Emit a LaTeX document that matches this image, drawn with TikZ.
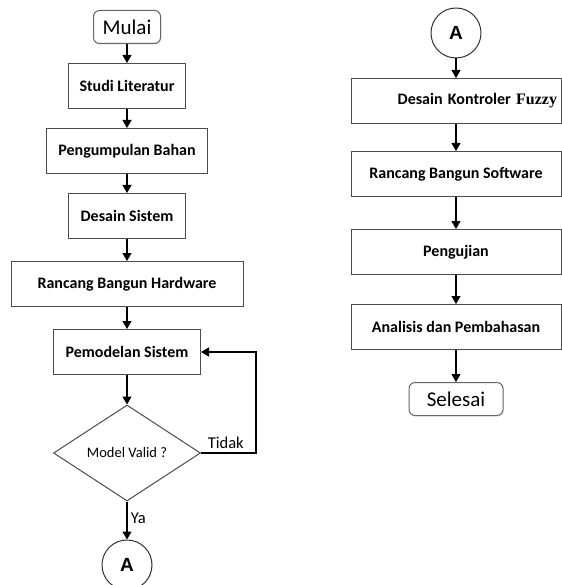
\documentclass[tikz,border=0pt]{standalone}
\usepackage{fontspec}
\setmainfont{Carlito}
\newfontfamily\fuzzyfont{Liberation Serif}
\newfontfamily\circfont{Liberation Sans}
\usetikzlibrary{positioning,shapes.geometric,arrows.meta,shadows}

\begin{document}
\begin{tikzpicture}[node distance=65pt, >={Triangle[length=8pt,width=9pt]}, line width=1.2pt]
    \tikzstyle{proses} = [draw=black!70, line width=1pt, rectangle, minimum height=45pt, inner sep=4pt, font=\fontsize{16}{18}\selectfont\bfseries]
    \tikzstyle{terminal} = [draw=black!60, fill=white, line width=1pt, rectangle, rounded corners=6pt, minimum height=33pt, font=\fontsize{21}{23}\selectfont, drop shadow={opacity=0.12, shadow xshift=1pt, shadow yshift=-1.5pt}]
    \tikzstyle{keputusan} = [draw=black!70, line width=1pt, diamond, minimum width=147pt, minimum height=96pt, inner sep=0pt, font=\fontsize{14.5}{16}\selectfont]
    \tikzstyle{konektor} = [draw=black!80, line width=1pt, circle, minimum size=50pt, fill=white, font=\circfont\bfseries\fontsize{19}{21}\selectfont]
    \tikzstyle{ket} = [font=\fontsize{16.5}{18}\selectfont]

    \useasboundingbox (0,0) rectangle (561pt,-585pt);

    % kolom kiri
    \node [terminal, minimum width=67pt] (mulai) at (127pt,-27pt) {Mulai};
    \node [proses, below of=mulai, node distance=59pt, minimum width=117pt] (studi) {Studi Literatur};
    \node [proses, below of=studi, minimum width=161pt] (bahan) {Pengumpulan Bahan};
    \node [proses, below of=bahan, minimum width=117pt] (desain) {Desain Sistem};
    \node [proses, below of=desain, node distance=68pt, minimum width=232pt] (hardware) {Rancang Bangun Hardware};
    \node [proses, below of=hardware, node distance=68pt, minimum width=147pt] (model) {Pemodelan Sistem};
    \node [keputusan, below of=model, node distance=101pt] (valid) {Model Valid ?};
    \node [konektor, below of=valid, node distance=112pt] (a1) {A};

    % kolom kanan
    \node [konektor] (a2) at (456pt,-33pt) {A};
    \node [proses, below of=a2, node distance=68pt, text width=202pt, align=right] (fuzzy) {Desain Kontroler {\fuzzyfont Fuzzy}};
    \node [proses, below of=fuzzy, node distance=73pt, minimum width=210pt] (software) {Rancang Bangun Software};
    \node [proses, below of=software, node distance=78pt, minimum width=210pt] (uji) {Pengujian};
    \node [proses, below of=uji, node distance=75pt, minimum width=210pt] (analisis) {Analisis dan Pembahasan};
    \node [terminal, below of=analisis, node distance=72pt, minimum width=94pt] (selesai) {Selesai};

    \draw [->] (mulai) -- (studi);
    \draw [->] (studi) -- (bahan);
    \draw [->] (bahan) -- (desain);
    \draw [->] (desain) -- (hardware);
    \draw [->] (hardware) -- (model);
    \draw [->] (model) -- (valid);
    \draw [->] (valid) -- node[ket, right, pos=0.45] {Ya} (a1);
    \draw [->] (valid.east) -- node[ket, above, pos=0.45] {Tidak} ++(55pt,0) |- (model.east);

    \draw [->] (a2) -- (fuzzy);
    \draw [->] (fuzzy) -- (software);
    \draw [->] (software) -- (uji);
    \draw [->] (uji) -- (analisis);
    \draw [->] (analisis) -- (selesai);
\end{tikzpicture}
\end{document}
